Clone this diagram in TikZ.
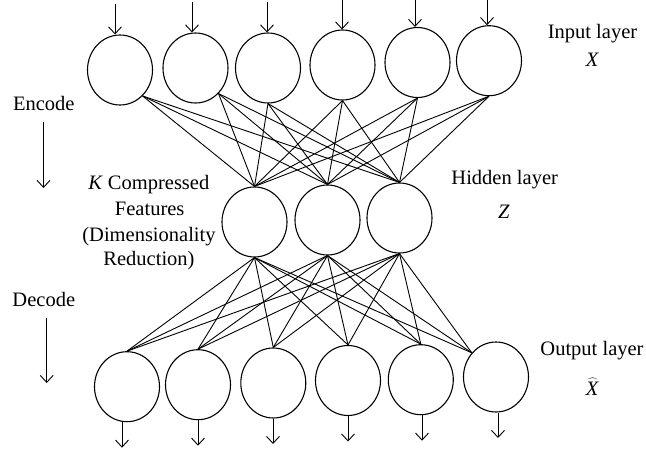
\documentclass[tikz,border=0pt]{standalone}
\usepackage{fontspec}
\setmainfont{Liberation Serif}
\usetikzlibrary{arrows.meta,shapes.geometric}

\tikzset{
  neuron/.style={ellipse, draw, line width=1.1pt, minimum width=65pt, minimum height=70pt, inner sep=0pt},
  link/.style={line width=0.9pt},
  arr/.style={line width=0.9pt, -{Straight Barb[length=7pt,width=13pt,line width=0.9pt]}},
  lbl/.style={inner sep=0pt, anchor=base, font=\fontsize{20.5}{24}\selectfont}
}

\begin{document}
\begin{tikzpicture}[x=1pt, y=-1pt]
  \fill[white] (0,0) rectangle (646,453);
  \useasboundingbox (0,0) rectangle (646,453);

  % input layer with incoming arrows
  \foreach \i/\x/\y/\ax in {1/120/70/115, 2/195.5/68/192, 3/268/68/267,
                            4/342.5/65/342, 5/417.5/62.5/415, 6/489/60.7/487} {
    \node[neuron] (in\i) at (\x,\y) {};
    \coordinate (ia\i) at (\ax,{\y-66});
    \draw[arr] (ia\i) -- (ia\i |- in\i.north);
  }

  % hidden (compressed) layer
  \foreach \j/\x/\y in {1/254.5/222, 2/327.5/220, 3/399.5/218}
    \node[neuron] (hid\j) at (\x,\y) {};

  % output layer with outgoing arrows
  \foreach \k/\x/\y/\ax in {1/127/386.7/122, 2/198/384.7/198, 3/273.3/383/273,
                            4/348/380.5/348, 5/420.8/379.7/422, 6/496/377/498} {
    \node[neuron] (out\k) at (\x,\y) {};
    \coordinate (oa\k) at (\ax,{\y+61});
    \draw[arr] (oa\k |- out\k.south) -- (oa\k);
  }

  % encoder weights
  \foreach \i/\a in {1/-49, 2/-48, 3/-90, 4/-90, 5/-90, 6/-90}
    \foreach \j in {1,2,3}
      \draw[link] (in\i.\a) -- (hid\j.north);

  % decoder weights
  \foreach \k/\a in {1/90, 2/90, 3/90, 4/90, 5/90, 6/135}
    \foreach \j in {1,2,3}
      \draw[link] (hid\j.south) -- (out\k.\a);

  % layer labels
  \node[lbl] (inl) at (592.5,38) {Input layer};
  \node[lbl] (inx) at (592.5,66.7) {\textit{X}};
  \node[lbl] (hidl) at (504.7,184.3) {Hidden layer};
  \node[lbl] (hidz) at (504,218.3) {\textit{Z}};
  \node[lbl] (outl) at (592,355) {Output layer};
  \node[lbl] (outx) at (592.5,395) {$\widehat{\mbox{\textit{X}}}$};

  % compressed features note
  \node[lbl] (kc1) at (148.8,189.3) {\textit{K} Compressed};
  \node[lbl] (kc2) at (149.7,215) {Features};
  \node[lbl] (kc3) at (149,241.5) {(Dimensionality};
  \node[lbl] (kc4) at (149,265) {Reduction)};

  % encode / decode direction
  \node[lbl] (enc) at (43.8,110) {Encode};
  \coordinate (encA) at (43.5,122);
  \coordinate (encB) at (43.5,188);
  \draw[arr] (encA) -- (encB);

  \node[lbl] (dec) at (43.8,306) {Decode};
  \coordinate (decA) at (46.7,318);
  \coordinate (decB) at (46.7,383);
  \draw[arr] (decA) -- (decB);
\end{tikzpicture}
\end{document}
